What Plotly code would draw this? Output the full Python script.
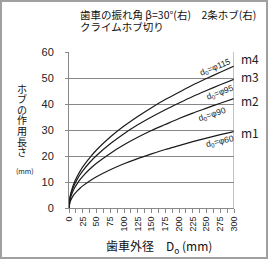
import plotly.graph_objects as go

# Data
D = [0, 2, 5, 10, 15, 20, 25, 37.5, 50, 75, 100, 125, 150, 175, 200, 225, 250, 275, 300]
m4 = [0, 4.5, 7.0, 10.0, 12.2, 14.1, 15.8, 19.3, 22.3, 27.3, 31.5, 35.2, 38.6, 41.7, 44.5, 47.3, 49.8, 52.2, 54.6]
m3 = [0, 4.0, 6.4, 9.0, 11.1, 12.8, 14.3, 17.5, 20.2, 24.7, 28.6, 32.0, 35.0, 37.8, 40.4, 42.9, 45.2, 47.4, 49.5]
m2 = [0, 3.4, 5.4, 7.7, 9.4, 10.9, 12.2, 14.9, 17.2, 21.0, 24.3, 27.2, 29.8, 32.1, 34.4, 36.5, 38.4, 40.3, 42.1]
m1 = [0, 2.4, 3.8, 5.4, 6.6, 7.6, 8.5, 10.4, 12.0, 14.7, 17.0, 19.0, 20.8, 22.5, 24.0, 25.5, 26.9, 28.2, 29.4]
series_names = ["m4", "m3", "m2", "m1"]
hob_labels = ["d<sub>0</sub>=φ115", "d<sub>0</sub>=φ95", "d<sub>0</sub>=φ90", "d<sub>0</sub>=φ60"]
x_tickvals = [0, 25, 50, 75, 100, 125, 150, 175, 200, 225, 250, 275, 300]
y_tickvals = [0, 10, 20, 30, 40, 50, 60]

JP = "Noto Sans CJK JP"
W, H = 269, 261
L, R, T, B = 69, 35, 52, 53


def px_x(px):
    return (px - L) / (W - L - R)


def px_y(py):
    return 1 - (py - T) / (H - T - B)


fig = go.Figure()
for ys, nm in zip([m4, m3, m2, m1], series_names):
    fig.add_trace(go.Scatter(x=D, y=ys, mode="lines", name=nm,
                             line=dict(color="#1a1a1a", width=1.2, shape="spline", smoothing=0.6),
                             showlegend=False, hoverinfo="skip"))

# right-side series labels
right_pos = {"m4": 57.5, "m3": 50.5, "m2": 41.5, "m1": 29}
for nm in series_names:
    fig.add_annotation(x=1.0, xref="paper", y=right_pos[nm], yref="y", text=nm,
                       showarrow=False, xanchor="left", xshift=5,
                       font=dict(family=JP, size=12, color="#222"))

# hob diameter labels next to their lines
hob_pos = [(265, 54.2, -22), (275, 44.4, -20), (260, 36.1, -18), (275, 25.4, -13)]
for (hx, hy, ang), txt in zip(hob_pos, hob_labels):
    fig.add_annotation(x=hx, y=hy, text=txt, showarrow=False, textangle=ang,
                       font=dict(family="Liberation Sans", size=8.5, color="#222"))

# title lines
fig.add_annotation(x=px_x(78), xref="paper", y=px_y(14), yref="paper",
                   text="歯車の振れ角 β=30°(右)　2条ホブ(右)", showarrow=False,
                   xanchor="left", yanchor="middle", font=dict(family=JP, size=10.5, color="#111"))
fig.add_annotation(x=px_x(78), xref="paper", y=px_y(27), yref="paper",
                   text="クライムホブ切り", showarrow=False,
                   xanchor="left", yanchor="middle", font=dict(family=JP, size=10.5, color="#111"))

# vertical y-axis title
ytitle = "ホブの作用長さ"
for i, ch in enumerate(ytitle):
    fig.add_annotation(x=px_x(22), xref="paper", y=px_y(88 + i * 10.6), yref="paper",
                       text=ch, showarrow=False, xanchor="center", yanchor="middle",
                       font=dict(family=JP, size=10, color="#111"))
fig.add_annotation(x=px_x(25), xref="paper", y=px_y(171), yref="paper",
                   text="(mm)", showarrow=False, xanchor="center", yanchor="middle",
                   font=dict(family=JP, size=7, color="#111"))

# x title
fig.add_annotation(x=px_x(159), xref="paper", y=px_y(246), yref="paper",
                   text="歯車外径　D<sub>o</sub> (mm)", showarrow=False, xanchor="center", yanchor="middle",
                   font=dict(family=JP, size=12, color="#111"))

# outer border
fig.add_shape(type="rect", xref="paper", yref="paper",
              x0=px_x(1), x1=px_x(267), y0=px_y(1), y1=px_y(258),
              line=dict(color="#a0a0a0", width=2), fillcolor="rgba(0,0,0,0)", layer="below")
# right edge of plot area
fig.add_shape(type="line", xref="x", yref="paper", x0=300, x1=300, y0=0, y1=1,
              line=dict(color="#888", width=1))

fig.update_layout(
    width=W, height=H, margin=dict(l=L, r=R, t=T, b=B),
    paper_bgcolor="white", plot_bgcolor="white",
    xaxis=dict(range=[0, 300], tickvals=x_tickvals, ticktext=[str(v) for v in x_tickvals],
               tickangle=-90, ticks="outside", ticklen=4, tickcolor="#888",
               showgrid=False, zeroline=False, showline=True, linecolor="#888", linewidth=1,
               tickfont=dict(family="Liberation Sans", size=9, color="#222"),
               minor=dict(dtick=12.5, tick0=0, ticks="outside", ticklen=4, tickcolor="#888", showgrid=False)),
    yaxis=dict(range=[0, 60], tickvals=y_tickvals, ticks="outside", ticklen=3, tickcolor="#888",
               ticklabelstandoff=9,
               showgrid=True, gridcolor="#888", gridwidth=1, zeroline=False,
               showline=True, linecolor="#888", linewidth=1,
               tickfont=dict(family="Liberation Sans", size=11, color="#222")),
)
fig.write_html("out.html")
